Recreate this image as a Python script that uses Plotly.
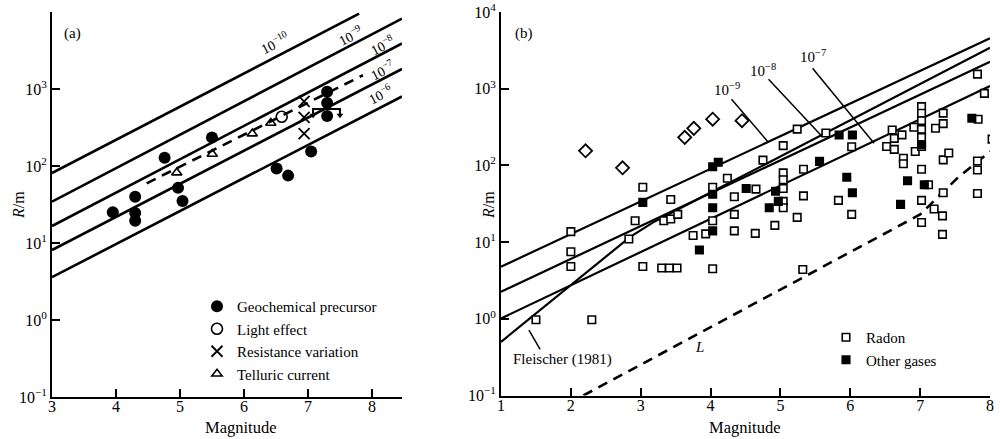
import plotly.graph_objects as go

SERIF = "Liberation Serif"
BLACK = "black"

# ---------------- shared ticks ----------------
y_tick_vals = [0.1, 1, 10, 100, 1000, 10000]
y_tick_text_a = ["10<sup>−1</sup>", "10<sup>0</sup>", "10<sup>1</sup>", "10<sup>2</sup>", "10<sup>3</sup>", ""]
y_tick_text_b = ["10<sup>−1</sup>", "10<sup>0</sup>", "10<sup>1</sup>", "10<sup>2</sup>", "10<sup>3</sup>", "10<sup>4</sup>"]
x_ticks_a = [3, 4, 5, 6, 7, 8]
x_ticks_b = [1, 2, 3, 4, 5, 6, 7, 8]

# ---------------- panel (a) data ----------------
a_strain_names = ["10<sup>−10</sup>", "10<sup>−9</sup>", "10<sup>−8</sup>", "10<sup>−7</sup>", "10<sup>−6</sup>"]
a_line_M_start = [3, 3, 3, 3, 3]
a_line_R_start = [81, 34.4, 16.6, 8.1, 3.6]
a_line_M_end = [7.8, 8.47, 8.47, 8.47, 8.47]
a_line_R_end = [9500, 8200, 3900, 1820, 800]

a_trend_M = [4.48, 7.86]
a_trend_R = [59.6, 1510]

geo_M = [3.95, 4.30, 4.30, 4.30, 4.76, 4.97, 5.04, 5.50, 6.51, 6.69, 7.05, 7.30, 7.30, 7.30]
geo_R = [25, 40, 24.5, 19.5, 128, 52, 35, 234, 93, 75, 154, 920, 660, 445]

light_M = [6.59]
light_R = [436]

resist_M = [6.94, 6.94, 6.94]
resist_R = [692, 427, 263]

telluric_M = [4.95, 5.505, 6.13, 6.42]
telluric_R = [82, 143, 263, 362]

bracket_M = [7.08, 7.08, 7.50, 7.50]
bracket_R = [457, 550, 550, 457]

# ---------------- panel (b) data ----------------
b_strain_names = ["10<sup>−9</sup>", "10<sup>−8</sup>", "10<sup>−7</sup>"]
b_line_M_start = [1, 1, 1]
b_line_R_start = [4.78, 2.25, 1.01]
b_line_M_end = [8, 8, 8]
b_line_R_end = [4540, 2250, 1085]

fleischer_M = [1.0, 2.85, 3.2, 3.6, 4.0, 8.0]
fleischer_R = [0.50, 11.7, 18.6, 28.8, 44.2, 3430]

L_M = [2.18, 7.0, 7.55, 8.03]
L_R = [0.1, 22.9, 70.8, 158]

radon_M = [1.5, 2.0, 2.0, 2.0, 2.3, 2.83, 2.92, 3.03, 3.03, 3.30, 3.41, 3.52,
           3.33, 3.43, 3.53, 3.43, 3.75, 3.93, 4.03, 4.03, 4.03, 4.24, 4.34, 4.34,
           4.34, 4.64, 4.65, 4.75, 4.92, 5.04, 5.04, 5.04, 5.04, 5.04, 5.04, 5.24,
           5.24, 5.33, 5.33, 5.32, 5.65, 5.83, 6.02, 6.02, 6.52, 6.60, 6.63, 6.63,
           6.74, 6.76, 6.76, 6.91, 6.93, 7.02, 7.02, 7.02, 7.02, 7.02, 7.02, 7.02,
           7.02, 7.02, 7.12, 7.20, 7.22, 7.32, 7.32, 7.33, 7.33, 7.33, 7.41, 7.33,
           7.82, 7.92, 7.83, 8.03, 7.82, 7.82, 7.82]
radon_R = [0.97, 13.7, 7.5, 4.8, 0.97, 11, 19, 52, 4.8, 4.6, 4.6, 4.6,
           19, 20, 23, 36, 12.2, 12.8, 4.5, 19, 52, 68, 39, 23,
           14, 13, 49, 117, 16.5, 181, 80, 65, 50, 34, 28, 21,
           297, 89, 40, 4.4, 265, 35, 175, 23, 176, 290, 225, 162,
           250, 124, 105, 315, 152, 583, 478, 384, 295, 232, 176, 89,
           35, 18, 56, 27, 305, 22, 12.6, 480, 350, 118, 145, 44,
           1550, 870, 400, 220, 114, 87, 43]

gas_M = [3.03, 3.84, 4.03, 4.11, 4.03, 4.03, 4.03, 4.51, 4.84, 4.93, 4.97,
         5.56, 5.84, 6.03, 5.95, 6.03, 6.72, 6.82, 7.06, 7.02, 7.74]
gas_R = [33, 7.9, 96, 110, 42, 28, 14, 50, 28, 46, 34,
         113, 249, 249, 70, 44, 31, 63, 56, 186, 411]

diamond_M = [2.21, 2.74, 3.63, 3.76, 4.03, 4.45]
diamond_R = [155, 93, 232, 304, 400, 383]

leader_M = [[4.30, 4.82], [4.83, 5.60], [5.46, 6.34], [1.40, 1.56]]
leader_R = [[728, 204], [1327, 237], [1845, 194], [0.714, 0.40]]

# ---------------- figure ----------------
fig = go.Figure()

# panel (a) strain lines
for i in range(len(a_strain_names)):
    fig.add_trace(go.Scatter(x=[a_line_M_start[i], a_line_M_end[i]], y=[a_line_R_start[i], a_line_R_end[i]],
                             mode="lines", line=dict(color=BLACK, width=2.6), showlegend=False,
                             hoverinfo="skip", xaxis="x", yaxis="y"))
fig.add_trace(go.Scatter(x=a_trend_M, y=a_trend_R, mode="lines",
                         line=dict(color=BLACK, width=2.6, dash="10px,7px"), showlegend=False,
                         xaxis="x", yaxis="y"))
fig.add_trace(go.Scatter(x=bracket_M, y=bracket_R, mode="lines", line=dict(color=BLACK, width=2),
                         showlegend=False, xaxis="x", yaxis="y"))
fig.add_trace(go.Scatter(x=[bracket_M[0], bracket_M[-1]], y=[bracket_R[0], bracket_R[-1]], mode="markers",
                         marker=dict(symbol="triangle-down", size=6, color=BLACK),
                         showlegend=False, xaxis="x", yaxis="y"))

fig.add_trace(go.Scatter(x=geo_M, y=geo_R, mode="markers", name="Geochemical precursor",
                         marker=dict(symbol="circle", size=12, color=BLACK),
                         xaxis="x", yaxis="y", legend="legend"))
fig.add_trace(go.Scatter(x=light_M, y=light_R, mode="markers", name="Light effect",
                         marker=dict(symbol="circle-open", size=11, color=BLACK, line=dict(width=1.6)),
                         xaxis="x", yaxis="y", legend="legend"))
fig.add_trace(go.Scatter(x=resist_M, y=resist_R, mode="markers", name="Resistance variation",
                         marker=dict(symbol="x-thin-open", size=11, color=BLACK, line=dict(width=1.8, color=BLACK)),
                         xaxis="x", yaxis="y", legend="legend"))
fig.add_trace(go.Scatter(x=telluric_M, y=telluric_R, mode="markers", name="Telluric current",
                         marker=dict(symbol="triangle-up-open", size=9, color=BLACK, line=dict(width=1.6)),
                         xaxis="x", yaxis="y", legend="legend"))

# panel (b) lines
for i in range(len(b_strain_names)):
    fig.add_trace(go.Scatter(x=[b_line_M_start[i], b_line_M_end[i]], y=[b_line_R_start[i], b_line_R_end[i]],
                             mode="lines", line=dict(color=BLACK, width=2.2), showlegend=False,
                             hoverinfo="skip", xaxis="x2", yaxis="y2"))
fig.add_trace(go.Scatter(x=fleischer_M, y=fleischer_R, mode="lines", line=dict(color=BLACK, width=2.2),
                         showlegend=False, xaxis="x2", yaxis="y2"))
fig.add_trace(go.Scatter(x=L_M, y=L_R, mode="lines", line=dict(color=BLACK, width=2.6, dash="10px,7px"),
                         showlegend=False, xaxis="x2", yaxis="y2"))
for lm, lr in zip(leader_M, leader_R):
    fig.add_trace(go.Scatter(x=lm, y=lr, mode="lines", line=dict(color=BLACK, width=1.5),
                             showlegend=False, xaxis="x2", yaxis="y2"))

fig.add_trace(go.Scatter(x=diamond_M, y=diamond_R, mode="markers", showlegend=False,
                         marker=dict(symbol="diamond", size=10, color="white", line=dict(width=1.8, color=BLACK)),
                         xaxis="x2", yaxis="y2"))
fig.add_trace(go.Scatter(x=radon_M, y=radon_R, mode="markers", name="Radon",
                         marker=dict(symbol="square", size=7.5, color="white", line=dict(width=1.6, color=BLACK)),
                         xaxis="x2", yaxis="y2", legend="legend2"))
fig.add_trace(go.Scatter(x=gas_M, y=gas_R, mode="markers", name="Other gases",
                         marker=dict(symbol="square", size=7.5, color=BLACK, line=dict(width=1.6, color=BLACK)),
                         xaxis="x2", yaxis="y2", legend="legend2"))

W, H = 1000, 439
def py(p):
    return 1 - p / H
def px(p):
    return p / W

axis_common = dict(showline=True, linecolor=BLACK, linewidth=2, ticks="inside", ticklen=8,
                   tickwidth=1.5, tickcolor=BLACK, showgrid=False, zeroline=False, automargin=False,
                   tickfont=dict(family=SERIF, size=16, color=BLACK))

def ann(x, y, text, size=15, angle=0, xref="paper", yref="paper"):
    return dict(x=x, y=y, xref=xref, yref=yref, text=text, showarrow=False, textangle=angle,
                xanchor="center", yanchor="middle", font=dict(family=SERIF, size=size, color=BLACK))

annotations = []
a_label_pos = [(6.47, 3.60), (7.67, 3.70), (8.16, 3.57), (8.16, 3.25), (8.13, 2.935)]
for name, (mx, ly) in zip(a_strain_names, a_label_pos):
    annotations.append(ann(mx, ly, name, size=14, angle=-27, xref="x", yref="y"))
b_label_pos = [(4.23, 3.0), (4.75, 3.244), (5.46, 3.42)]
for name, (mx, ly) in zip(b_strain_names, b_label_pos):
    annotations.append(ann(mx, ly, name, size=15, xref="x2", yref="y2"))
annotations += [
    ann(1.886, -0.537, "Fleischer (1981)", xref="x2", yref="y2"),
    ann(3.84, -0.367, "<i>L</i>", xref="x2", yref="y2"),
    ann(px(72), py(33), "(a)"),
    ann(px(524), py(33), "(b)"),
    ann(px(18), py(205), "<i>R</i>/m", size=16, angle=-90),
    ann(px(488), py(205), "<i>R</i>/m", size=16, angle=-90),
    ann(px(241), py(427), "Magnitude", size=16.5),
    ann(px(745), py(427), "Magnitude", size=16.5),
]

fig.update_layout(
    width=W, height=H, autosize=False,
    margin=dict(l=0, r=0, t=0, b=0),
    paper_bgcolor="white", plot_bgcolor="white",
    font=dict(family=SERIF, color=BLACK),
    xaxis=dict(domain=[px(52), px(402)], range=[3, 8.47], tickvals=x_ticks_a, anchor="y",
               ticklabelstandoff=-6, **axis_common),
    yaxis=dict(domain=[py(397), py(12)], type="log", range=[-1, 4], tickvals=y_tick_vals,
               ticktext=y_tick_text_a, anchor="x", **axis_common),
    xaxis2=dict(domain=[px(501), px(990)], range=[1, 8], tickvals=x_ticks_b, anchor="y2",
                ticklabelstandoff=-6, **axis_common),
    yaxis2=dict(domain=[py(395.5), py(12)], type="log", range=[-1, 4], tickvals=y_tick_vals,
                ticktext=y_tick_text_b, anchor="x2", **axis_common),
    legend=dict(x=px(197), y=py(290), xanchor="left", yanchor="top", bgcolor="rgba(0,0,0,0)",
                font=dict(family=SERIF, size=15, color=BLACK), itemwidth=30, tracegroupgap=0),
    legend2=dict(x=px(826), y=py(321), xanchor="left", yanchor="top", bgcolor="rgba(0,0,0,0)",
                 font=dict(family=SERIF, size=15, color=BLACK), itemwidth=30, tracegroupgap=0),
    annotations=annotations,
    showlegend=True,
)

# the page's default 8 px body margin would push the 1000x439 figure off the window
fig.write_html("out.html", config={"displayModeBar": False},
               post_script="document.body.style.margin='0';")
